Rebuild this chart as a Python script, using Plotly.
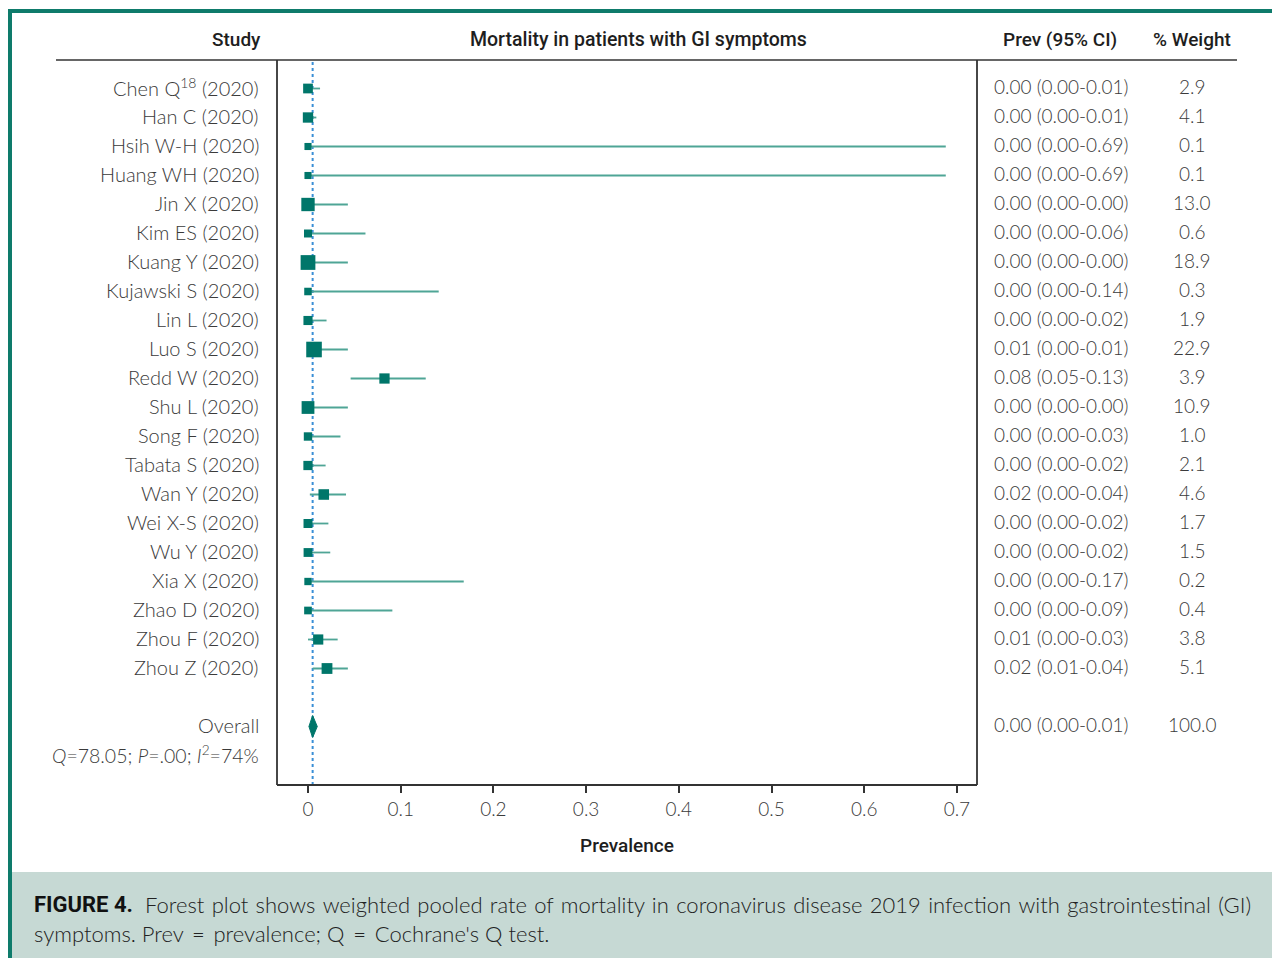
import plotly.graph_objects as go

# ---- study data -------------------------------------------------------
studies = [
    "Chen Q<sup>18</sup> (2020)", "Han C (2020)", "Hsih W-H (2020)", "Huang WH (2020)",
    "Jin X (2020)", "Kim ES (2020)", "Kuang Y (2020)", "Kujawski S (2020)",
    "Lin L (2020)", "Luo S (2020)", "Redd W (2020)", "Shu L (2020)",
    "Song F (2020)", "Tabata S (2020)", "Wan Y (2020)", "Wei X-S (2020)",
    "Wu Y (2020)", "Xia X (2020)", "Zhao D (2020)", "Zhou F (2020)", "Zhou Z (2020)",
]
# plotted prevalence and confidence limits
est = [0.000, 0.000, 0.000, 0.000, 0.000, 0.000, 0.000, 0.000, 0.000, 0.0065, 0.0825,
       0.000, 0.000, 0.000, 0.017, 0.000, 0.000, 0.000, 0.000, 0.011, 0.0205]
ci_low = [0.000, 0.000, 0.000, 0.000, 0.000, 0.000, 0.000, 0.000, 0.000, 0.000, 0.046,
          0.000, 0.000, 0.000, 0.002, 0.000, 0.000, 0.000, 0.000, 0.000, 0.005]
ci_high = [0.013, 0.009, 0.688, 0.688, 0.043, 0.062, 0.043, 0.141, 0.020, 0.043, 0.127,
           0.043, 0.035, 0.019, 0.041, 0.022, 0.024, 0.168, 0.091, 0.032, 0.043]
prev_ci_text = [
    "0.00 (0.00-0.01)", "0.00 (0.00-0.01)", "0.00 (0.00-0.69)", "0.00 (0.00-0.69)",
    "0.00 (0.00-0.00)", "0.00 (0.00-0.06)", "0.00 (0.00-0.00)", "0.00 (0.00-0.14)",
    "0.00 (0.00-0.02)", "0.01 (0.00-0.01)", "0.08 (0.05-0.13)", "0.00 (0.00-0.00)",
    "0.00 (0.00-0.03)", "0.00 (0.00-0.02)", "0.02 (0.00-0.04)", "0.00 (0.00-0.02)",
    "0.00 (0.00-0.02)", "0.00 (0.00-0.17)", "0.00 (0.00-0.09)", "0.01 (0.00-0.03)",
    "0.02 (0.01-0.04)",
]
weight = [2.9, 4.1, 0.1, 0.1, 13.0, 0.6, 18.9, 0.3, 1.9, 22.9, 3.9, 10.9,
          1.0, 2.1, 4.6, 1.7, 1.5, 0.2, 0.4, 3.8, 5.1]

overall_est = 0.005
overall_low = 0.001
overall_high = 0.010
overall_text = "0.00 (0.00-0.01)"
overall_weight = 100.0
het_text = "<i>Q</i>=78.05; <i>P</i>=.00; <i>I</i><sup>2</sup>=74%"

x_ticks = [0, 0.1, 0.2, 0.3, 0.4, 0.5, 0.6, 0.7]
x_tick_text = ["0", "0.1", "0.2", "0.3", "0.4", "0.5", "0.6", "0.7"]

caption_line1 = ("Forest plot shows weighted pooled rate of mortality in coronavirus "
                 "disease 2019 infection with gastrointestinal (GI)")
caption_line2 = "symptoms. Prev = prevalence; Q = Cochrane's Q test."

# ---- layout geometry (pixels) ----------------------------------------
W, H = 1272, 958
PL, PR, PT, PB = 277, 977, 60, 785  # plot box


def px(x):
    return (x - PL) / (PR - PL)


def py(y):
    return (PB - y) / (PB - PT)


TEAL = "#0e7b6b"
MARK = "#00766a"
CI_COL = "#4fa596"
TEXT = "#3a3a3a"
HEAD = "#1e1e1e"
BODY_FONT = "Lato"
HEAD_FONT = "Roboto"

rows = list(range(len(studies)))
overall_row = len(studies) + 1
het_row = overall_row + 1

fig = go.Figure()

# confidence intervals
cx, cy = [], []
for r, lo, hi in zip(rows, ci_low, ci_high):
    cx += [lo, hi, None]
    cy += [r, r, None]
fig.add_trace(go.Scatter(x=cx, y=cy, mode="lines",
                         line=dict(color=CI_COL, width=1.8),
                         hoverinfo="skip", showlegend=False))

# weighted squares
sizes = [6.5 + 1.9 * w ** 0.5 for w in weight]
fig.add_trace(go.Scatter(x=est, y=rows, mode="markers",
                         marker=dict(symbol="square", size=sizes, color=MARK,
                                     opacity=1, line=dict(width=0)),
                         showlegend=False))

# pooled diamond
dh = 0.38
fig.add_trace(go.Scatter(
    x=[overall_low, overall_est, overall_high, overall_est, overall_low],
    y=[overall_row, overall_row - dh, overall_row, overall_row + dh, overall_row],
    mode="lines", fill="toself", fillcolor=MARK,
    line=dict(color=MARK, width=1), showlegend=False))

shapes = []
# outer frame and caption band
shapes.append(dict(type="rect", xref="paper", yref="paper",
                   x0=px(8), x1=px(W + 5), y0=py(9), y1=py(13),
                   fillcolor=TEAL, line=dict(width=0)))
shapes.append(dict(type="rect", xref="paper", yref="paper",
                   x0=px(8), x1=px(12), y0=py(9), y1=py(H + 5),
                   fillcolor=TEAL, line=dict(width=0)))
shapes.append(dict(type="rect", xref="paper", yref="paper",
                   x0=px(12), x1=px(W + 5), y0=py(872), y1=py(H + 5),
                   fillcolor="#c6d9d4", line=dict(width=0)))
# header rule and plot box
shapes.append(dict(type="line", xref="paper", yref="paper",
                   x0=px(56), x1=px(1237), y0=1, y1=1,
                   line=dict(color="#333333", width=1.6)))
for x0, y0, x1, y1 in [(0, 0, 0, 1), (1, 0, 1, 1), (0, 0, 1, 0)]:
    shapes.append(dict(type="line", xref="paper", yref="paper",
                       x0=x0, x1=x1, y0=y0, y1=y1,
                       line=dict(color="#333333", width=1.8)))
# pooled estimate reference line
shapes.append(dict(type="line", xref="x", yref="paper",
                   x0=overall_est, x1=overall_est, y0=0, y1=1, layer="below",
                   line=dict(color="#3a8fd6", width=2, dash="dot")))

ann = []


def add_text(x, y, text, size=19, color=TEXT, family=BODY_FONT, weight=300,
             xanchor="right", yref="y", yshift=0):
    ann.append(dict(x=x, y=y, xref="paper", yref=yref, text=text, showarrow=False,
                    xanchor=xanchor, yanchor="middle", yshift=yshift,
                    font=dict(family=family, size=size, color=color, weight=weight)))


# column headers
for xc, t in [(236, "Study"), (638, "Mortality in patients with GI symptoms"),
              (1060, "Prev (95% CI)"), (1192, "% Weight")]:
    add_text(px(xc), py(40), t, size=19.5 if xc == 638 else 19, color=HEAD,
             family=HEAD_FONT, weight=500, xanchor="center", yref="paper")

for r, s, t, w in zip(rows, studies, prev_ci_text, weight):
    add_text(px(261), r, s, size=20, yshift=2)
    add_text(px(992), r, t, xanchor="left", yshift=2)
    add_text(px(1192), r, f"{w:.1f}", xanchor="center", yshift=2)

add_text(px(261), overall_row, "Overall", size=20, yshift=2)
add_text(px(992), overall_row, overall_text, xanchor="left", yshift=2)
add_text(px(1192), overall_row, f"{overall_weight:.1f}", xanchor="center", yshift=2)
add_text(px(261), het_row, het_text, size=19.5, yshift=1)

# x axis title
add_text(px(627), py(845), "Prevalence", size=19, color=HEAD, family=HEAD_FONT,
         weight=500, xanchor="center", yref="paper")

# caption (first line spread with hair spaces to fill the band)
add_text(px(32), py(904), "FIGURE 4.", size=22, color="#111111", family=HEAD_FONT,
         weight=700, xanchor="left", yref="paper")
add_text(px(143), py(904), caption_line1.replace(" ", " \u200a"),
         size=22, color="#222222", xanchor="left", yref="paper")
add_text(px(32), py(933), caption_line2.replace(" = ", " \u2009=\u2009 "),
         size=22, color="#222222", xanchor="left", yref="paper")

y_top = (PT - 88.5) / 29
y_bot = (PB - 88.5) / 29
x_lo = (PL - 308) / 927
x_hi = (PR - 308) / 927

fig.update_layout(
    width=W, height=H,
    margin=dict(l=PL, r=W - PR, t=PT, b=H - PB, pad=0),
    paper_bgcolor="white", plot_bgcolor="white",
    shapes=shapes, annotations=ann, showlegend=False,
    xaxis=dict(range=[x_lo, x_hi], tickvals=x_ticks, ticktext=x_tick_text,
               ticks="outside", ticklen=7, tickwidth=1.5, tickcolor="#333333",
               showgrid=False, zeroline=False, showline=False,
               tickfont=dict(family=BODY_FONT, size=19, color=TEXT, weight=300)),
    yaxis=dict(range=[y_bot, y_top], showticklabels=False, ticks="",
               showgrid=False, zeroline=False, showline=False),
)

fig.write_html("out.html")
